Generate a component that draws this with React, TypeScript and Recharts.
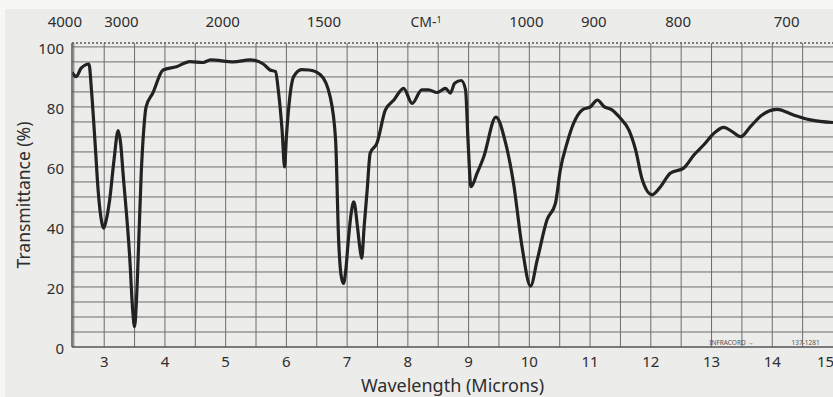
import React from 'react';
import { LineChart, Line, XAxis, YAxis, ReferenceLine, ReferenceDot } from 'recharts';

// Wavelength (microns) and transmittance (%)
const wavelength = [
  2.47, 2.54, 2.62, 2.75, 2.79, 2.85, 2.9, 2.96, 2.99, 3.03, 3.09, 3.16, 3.23, 3.27, 3.31, 3.42,
  3.47, 3.5, 3.53, 3.55, 3.61, 3.65, 3.69, 3.8, 3.97, 4.19, 4.41, 4.63, 4.75, 5.13, 5.4, 5.62,
  5.73, 5.82, 5.87, 5.93, 5.97, 6.0, 6.04, 6.12, 6.25, 6.37, 6.56, 6.72, 6.81, 6.86, 6.9, 6.94,
  6.98, 7.02, 7.07, 7.11, 7.17, 7.21, 7.24, 7.28, 7.33, 7.38, 7.49, 7.63, 7.77, 7.93, 8.07, 8.23,
  8.34, 8.48, 8.62, 8.7, 8.77, 8.88, 8.95, 8.99, 9.04, 9.14, 9.25, 9.45, 9.61, 9.74, 9.88, 10.02,
  10.13, 10.29, 10.43, 10.51, 10.62, 10.73, 10.87, 11.01, 11.12, 11.23, 11.36, 11.5, 11.64, 11.75,
  11.86, 12.02, 12.16, 12.32, 12.54, 12.71, 12.87, 13.04, 13.2, 13.34, 13.48, 13.64, 13.81, 14.08,
  14.35, 14.63, 15.0,
];
const transmittance = [
  91.5, 90.1, 92.9, 94.3, 85.7, 68, 52.3, 41.5, 39.6, 42, 49, 62, 72.1, 68, 58, 30,
  12, 6.8, 15, 24.6, 58, 72, 80, 84.6, 92.3, 93.4, 95.1, 94.8, 95.7, 95, 95.7, 94.3,
  92.3, 91.8, 85, 72, 60, 70, 80.1, 90.1, 92.4, 92.3, 90.7, 83.4, 69, 35.7, 24, 21.2,
  26, 35.7, 45, 48.4, 40.1, 33, 29.6, 40, 52.3, 64.6, 67.9, 79, 82.3, 86.2, 81.2, 85.7,
  85.7, 84.8, 86.2, 84.6, 87.9, 88.8, 85.7, 69, 53.4, 57.9, 63.4, 76.6, 67.9, 54.6, 33.4, 20.3,
  29, 42.3, 47.9, 59, 67.9, 74.6, 79, 80.1, 82.3, 80.1, 79, 76.2, 72.3, 65.7,
  55.7, 50.7, 53.4, 57.9, 59.6, 64, 67.3, 71.2, 73.2, 71.8, 70.1, 73.4, 77, 79.2,
  77.3, 75.7, 74.8,
];

const xTicks = [3, 4, 5, 6, 7, 8, 9, 10, 11, 12, 13, 14, 15];
const yTicks = [0, 20, 40, 60, 80, 100];
const topWavenumbers = [4000, 3000, 2000, 1500, 1000, 900, 800, 700];
const topUnitLabel = 'CM-';
const topUnitSup = '1';
const topUnitPos = 8.3;
const gridX = [2.5, 3, 3.5, 4, 4.5, 5, 5.5, 6, 6.5, 7, 7.5, 8, 8.5, 9, 9.5, 10, 10.5, 11, 11.5, 12, 12.5, 13, 13.5, 14, 14.5];
const gridY = [5, 10, 15, 20, 25, 30, 35, 40, 45, 50, 55, 60, 65, 70, 75, 80, 85, 90, 95, 100];
const footnoteLeft = 'INFRACORD →';
const footnoteRight = '137-1281';

const data = wavelength.map((w, i) => ({ w, t: transmittance[i] }));
const topTicks = [...topWavenumbers.map((wn) => 10000 / wn), topUnitPos].sort((a, b) => a - b);

const FONT = "'Noto Sans', 'Liberation Sans', sans-serif";
const TEXT = '#2e2e2e';
const GRID = '#6c6c6c';

const TopTick = (props: any) => {
  const { x, y, payload, index } = props;
  const v = payload.value;
  if (Math.abs(v - topUnitPos) < 1e-6) {
    return (
      <text x={x} y={y} textAnchor="middle" fontFamily={FONT} fontSize={14} fill={TEXT}>
        {topUnitLabel}
        <tspan fontSize={9} dy={-4}>{topUnitSup}</tspan>
      </text>
    );
  }
  const label = String(Math.round(10000 / v));
  const dx = index === 0 ? -9 : -3;
  return (
    <text x={x + dx} y={y} textAnchor="middle" fontFamily={FONT} fontSize={15} fill={TEXT}>
      {label}
    </text>
  );
};

export default function App() {
  return (
    <div
      style={{
        position: 'absolute',
        left: 0,
        top: 0,
        width: 833,
        height: 397,
        background: '#f7f7f6',
        overflow: 'hidden',
      }}
    >
      <div
        style={{
          position: 'absolute',
          left: 5,
          top: 9,
          width: 828,
          height: 388,
          background: '#ececea',
        }}
      />
      <div style={{ position: 'absolute', left: 0, top: 0 }}>
        <LineChart width={833} height={397} data={data} margin={{ top: 0, right: 0, bottom: 0, left: 0 }}>
          <XAxis
            xAxisId="bottom"
            dataKey="w"
            type="number"
            domain={[2.47, 15]}
            allowDataOverflow
            ticks={xTicks}
            height={50}
            tickSize={0}
            tickMargin={9}
            axisLine={{ stroke: '#555', strokeWidth: 1.5 }}
            tick={{ fontFamily: FONT, fontSize: 15, fill: TEXT }}
            label={{
              value: 'Wavelength (Microns)',
              position: 'insideBottom',
              offset: 5,
              style: { fontFamily: FONT, fontSize: 18, fill: TEXT },
            }}
          />
          <XAxis
            xAxisId="top"
            orientation="top"
            dataKey="w"
            type="number"
            domain={[2.47, 15]}
            allowDataOverflow
            ticks={topTicks}
            height={43}
            tickSize={0}
            tickMargin={16}
            interval={0}
            axisLine={{ stroke: '#555', strokeWidth: 1.5, strokeDasharray: '2 2' }}
            tick={<TopTick />}
          />
          <YAxis
            yAxisId="left"
            type="number"
            domain={[0, 101.3]}
            allowDataOverflow
            ticks={yTicks}
            width={72}
            tickSize={0}
            tickMargin={8}
            axisLine={{ stroke: '#555', strokeWidth: 1.5 }}
            tick={{ fontFamily: FONT, fontSize: 15, fill: TEXT, dy: 2 }}
            label={{
              value: 'Transmittance (%)',
              angle: -90,
              position: 'insideLeft',
              offset: 24,
              style: { fontFamily: FONT, fontSize: 17.5, fill: TEXT, textAnchor: 'middle' },
            }}
          />
          {gridX.map((gx) => (
            <ReferenceLine
              key={'gx' + gx}
              x={gx}
              xAxisId="bottom"
              yAxisId="left"
              stroke={GRID}
              strokeWidth={1}
            />
          ))}
          {gridY.map((gy) => (
            <ReferenceLine
              key={'gy' + gy}
              y={gy}
              xAxisId="bottom"
              yAxisId="left"
              stroke={GRID}
              strokeWidth={1}
            />
          ))}
          <ReferenceDot
            xAxisId="bottom"
            yAxisId="left"
            x={13.33}
            y={1.6}
            r={0}
            fill="none"
            stroke="none"
            label={{ value: footnoteLeft, fontSize: 6.5, fill: '#555', fontFamily: FONT }}
          />
          <ReferenceDot
            xAxisId="bottom"
            yAxisId="left"
            x={14.55}
            y={1.6}
            r={0}
            fill="none"
            stroke="none"
            label={{ value: footnoteRight, fontSize: 6.5, fill: '#555', fontFamily: FONT }}
          />
          <Line
            xAxisId="bottom"
            yAxisId="left"
            type="monotone"
            dataKey="t"
            stroke="#222"
            strokeWidth={3.2}
            dot={false}
            isAnimationActive={false}
          />
        </LineChart>
      </div>
    </div>
  );
}
